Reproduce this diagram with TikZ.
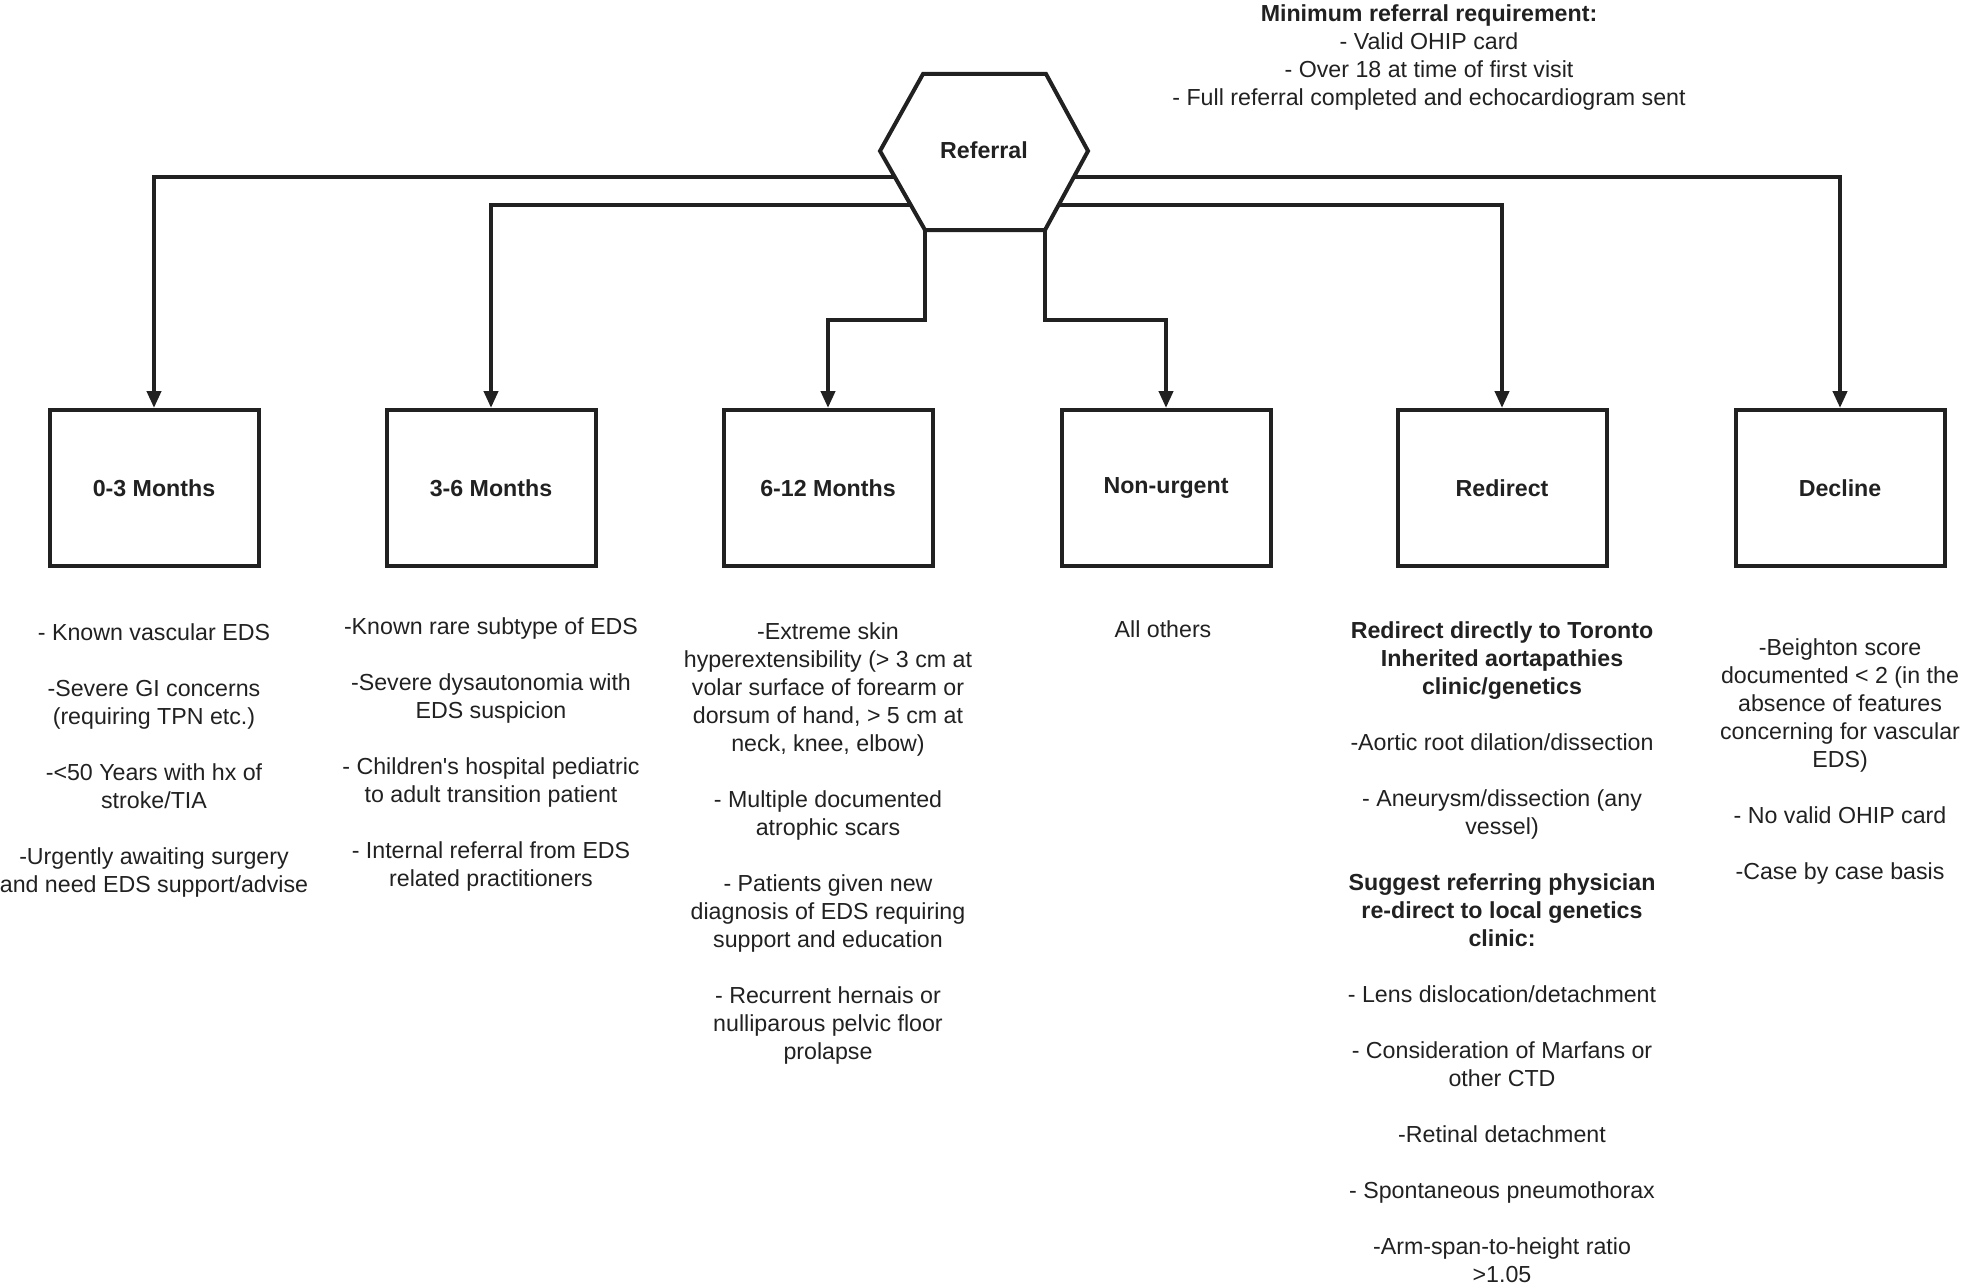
\documentclass[tikz,border=0pt]{standalone}
\usepackage{fontspec}
\setmainfont{Liberation Sans}
\usetikzlibrary{arrows.meta}
\definecolor{ink}{gray}{0.13}
\newcommand{\straightq}{{\XeTeXglyph\XeTeXcharglyph"27\relax}}
\begin{document}
\begin{tikzpicture}[x=0.5pt,y=-0.5pt,
  every node/.style={font=\fontsize{11.6}{14}\selectfont,text=ink},
  conn/.style={draw=ink,line width=2pt,-{Triangle[width=7pt,length=8.5pt]}},
  shapeline/.style={draw=ink,line width=2pt,line join=miter},
  box/.style={draw=ink,line width=2pt,minimum width=104.5pt,minimum height=78pt,inner sep=0pt,font=\fontsize{11.6}{14}\selectfont\bfseries},
  txt/.style={align=center,inner sep=0pt,anchor=north,font=\fontsize{11.6}{14}\selectfont}]
\useasboundingbox (0,0) rectangle (1968,1284);

% hexagon
\draw[shapeline] (880,151) -- (923,74) -- (1046,74) -- (1088,151) -- (1045,230) -- (925,230) -- cycle;
\node[inner sep=0pt,font=\fontsize{11.6}{14}\selectfont\bfseries] (ref) at (984,150) {Referral};
\coordinate (hL1) at (895,177);
\coordinate (hL2) at (911,205);
\coordinate (hR1) at (1074,177);
\coordinate (hR2) at (1059,205);
\coordinate (hB1) at (925,230);
\coordinate (hB2) at (1045,230);
\coordinate (j1) at (925,320);
\coordinate (j2) at (1045,320);

% boxes
\node[box] (b03) at (154,488) {0-3 Months};
\node[box] (b36) at (491,488) {3-6 Months};
\node[box] (b612) at (828,488) {6-12 Months};
\node[box] (bnu) at (1166,488) {Non-urgent};
\node[box] (bre) at (1502,488) {Redirect};
\node[box] (bde) at (1840,488) {Decline};

% connectors
\draw[conn] (hL1) -| (b03.north);
\draw[conn] (hL2) -| (b36.north);
\draw[conn] (hB1) -- (j1) -| (b612.north);
\draw[conn] (hB2) -- (j2) -| (bnu.north);
\draw[conn] (hR2) -| (bre.north);
\draw[conn] (hR1) -| (bde.north);

% top text
\node[txt] (req) at (1429,4) {\textbf{Minimum referral requirement:}\\- Valid OHIP card\\- Over 18 at time of first visit\\- Full referral completed and echocardiogram sent};

% text blocks
\node[txt] (t03) at (154,623) {- Known vascular EDS\\[14pt]-Severe GI concerns\\(requiring TPN etc.)\\[14pt]-<50 Years with hx of\\stroke/TIA\\[14pt]-Urgently awaiting surgery\\and need EDS support/advise};
\node[txt] (t36) at (491,617) {-Known rare subtype of EDS\\[14pt]-Severe dysautonomia with\\EDS suspicion\\[14pt]- Children\straightq s hospital pediatric\\to adult transition patient\\[14pt]- Internal referral from EDS\\related practitioners};
\node[txt] (t612) at (828,622) {-Extreme skin\\hyperextensibility (> 3 cm at\\volar surface of forearm or\\dorsum of hand, > 5 cm at\\neck, knee, elbow)\\[14pt]- Multiple documented\\atrophic scars\\[14pt]- Patients given new\\diagnosis of EDS requiring\\support and education\\[14pt]- Recurrent hernais or\\nulliparous pelvic floor\\prolapse};
\node[txt] (tnu) at (1163,620) {All others};
\node[txt] (tre) at (1502,621) {\textbf{Redirect directly to Toronto}\\\textbf{Inherited aortapathies}\\\textbf{clinic/genetics}\\[14pt]-Aortic root dilation/dissection\\[14pt]- Aneurysm/dissection (any\\vessel)\\[14pt]\textbf{Suggest referring physician}\\\textbf{re-direct to local genetics}\\\textbf{clinic:}\\[14pt]- Lens dislocation/detachment\\[14pt]- Consideration of Marfans or\\other CTD\\[14pt]-Retinal detachment\\[14pt]- Spontaneous pneumothorax\\[14pt]-Arm-span-to-height ratio\\>1.05};
\node[txt] (tde) at (1840,638) {-Beighton score\\documented < 2 (in the\\absence of features\\concerning for vascular\\EDS)\\[14pt]- No valid OHIP card\\[14pt]-Case by case basis};
\end{tikzpicture}
\end{document}
